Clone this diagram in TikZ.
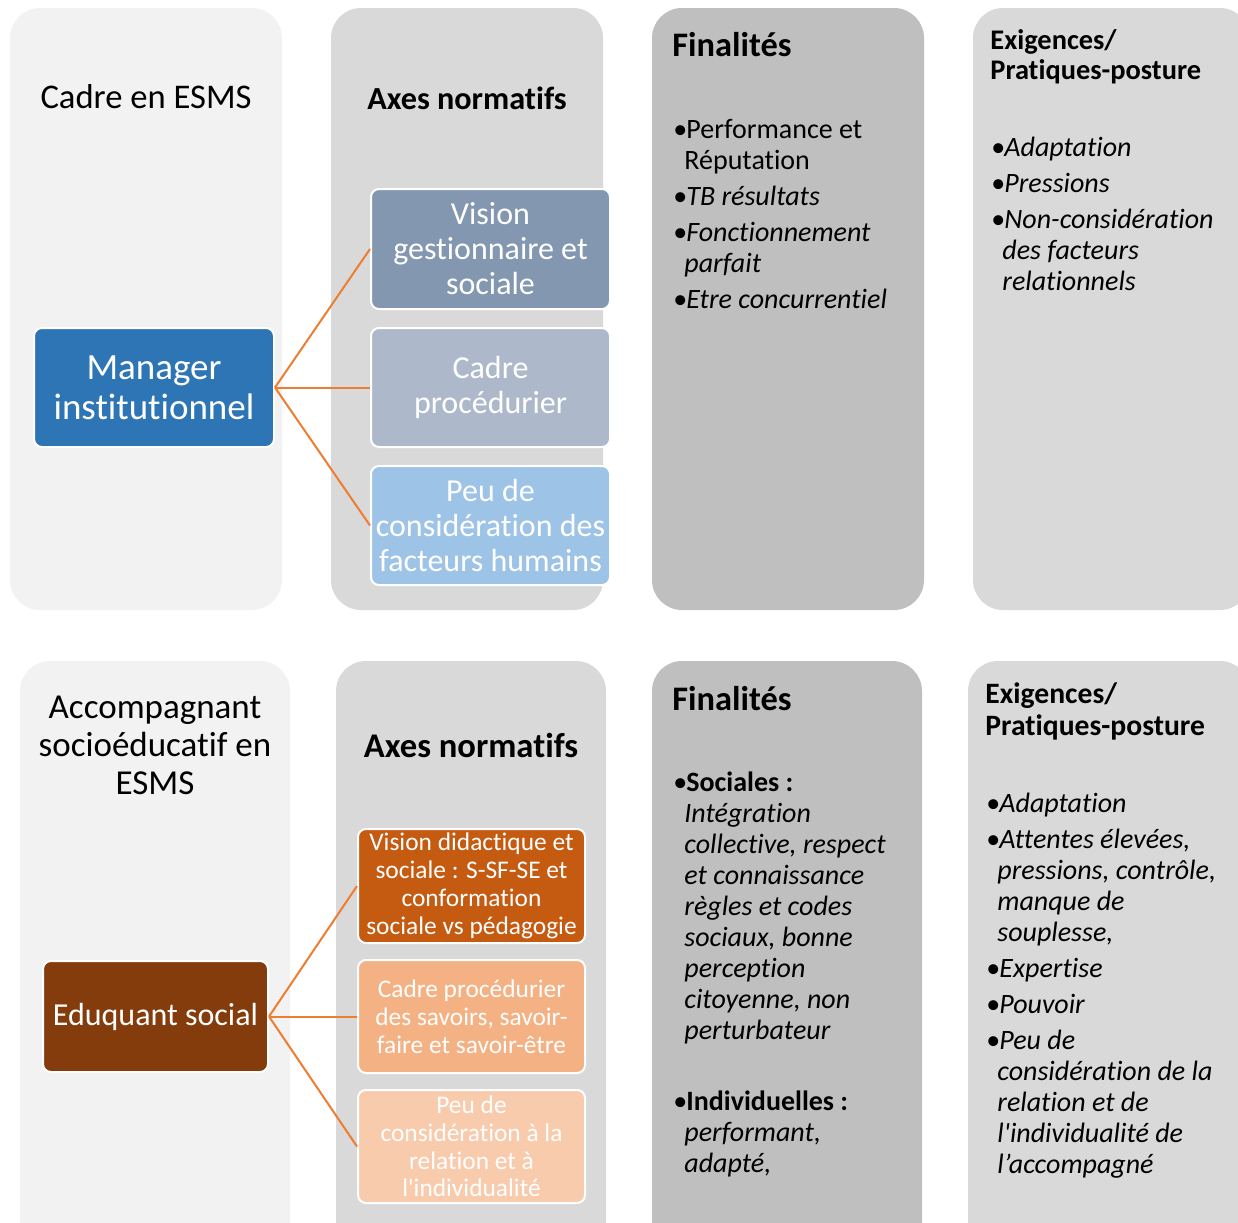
\documentclass[tikz,border=0pt]{standalone}
\usepackage{fontspec}
\setmainfont{Carlito}[Ligatures={CommonOff,TeXOff}]
\usetikzlibrary{positioning}
\definecolor{panelA}{HTML}{F2F2F2}
\definecolor{panelB}{HTML}{D9D9D9}
\definecolor{panelC}{HTML}{BFBFBF}
\definecolor{mgrblue}{HTML}{2E75B6}
\definecolor{axeA}{HTML}{8497B0}
\definecolor{axeB}{HTML}{ADB9CA}
\definecolor{axeC}{HTML}{9DC3E6}
\definecolor{edubrown}{HTML}{843C0C}
\definecolor{axeD}{HTML}{C55A11}
\definecolor{axeE}{HTML}{F4B183}
\definecolor{axeF}{HTML}{F8CBAD}
\definecolor{linkorange}{HTML}{ED7D31}
\newcommand{\itm}{\makebox[6.5pt][l]{•}}
\newcommand{\cnt}{\hspace*{5.5pt}}

\begin{document}
\begin{tikzpicture}[x=0.5pt, y=-0.5pt,
					panel/.style={rounded corners=15pt},
					axe/.style={draw=white, line width=1pt, rounded corners=4pt, text=white, align=center, inner sep=1pt},
					link/.style={draw=linkorange, line width=1pt},
					title/.style={align=center, inner sep=0pt},
					liste/.style={anchor=north west, align=left, inner sep=0pt, font=\fontsize{14}{15.5}\selectfont}]
					\useasboundingbox (0,0) rectangle (1238,1222);
					\clip (0,0) rectangle (1238,1222);
					% Spalten oben
					\fill[panelA, panel] (10,8) rectangle (282,610);
					\fill[panelB, panel] (331,8) rectangle (603,610);
					\fill[panelC, panel] (652,8) rectangle (924,610);
					\fill[panelB, panel] (973,8) rectangle (1250,610);
					% Spalten unten
					\fill[panelA, panel] (20,661) rectangle (290,1260);
					\fill[panelB, panel] (336,661) rectangle (606,1260);
					\fill[panelC, panel] (652,661) rectangle (922,1260);
					\fill[panelB, panel] (968,661) rectangle (1250,1260);
					% Manager institutionnel
					\node[title, font=\fontsize{17.3}{19}\selectfont] (cadre) at (146,97) {Cadre en ESMS};
					\node[title, font=\fontsize{16.1}{18}\selectfont\bfseries] (axesA) at (467,98) {Axes normatifs};
					\node[axe, fill=mgrblue, minimum width=120pt, minimum height=59.5pt, font=\fontsize{18.5}{20}\selectfont] (mgr) at (154,387.5) {Manager\\institutionnel};
					\node[axe, fill=axeA, minimum width=119.5pt, minimum height=60pt, font=\fontsize{16}{17.5}\selectfont] (vis) at (490.5,249) {Vision\\gestionnaire et\\sociale};
					\node[axe, fill=axeB, minimum width=119.5pt, minimum height=59.5pt, font=\fontsize{16}{17.5}\selectfont] (proc) at (490.5,387.5) {Cadre\\procédurier};
					\node[axe, fill=axeC, minimum width=119.5pt, minimum height=59.5pt, font=\fontsize{16}{17.5}\selectfont] (peu) at (490.5,525.5) {Peu de\\considération des\\facteurs humains};
					\draw[link] (mgr.east) -- (vis.west);
					\draw[link] (mgr.east) -- (proc.west);
					\draw[link] (mgr.east) -- (peu.west);
					\node[anchor=west, inner sep=0pt, font=\fontsize{17.2}{19}\selectfont\bfseries] (finA) at (672,45) {Finalités};
					\node[liste] (listA) at (673,119) {\itm Performance et\\ \cnt Réputation\\[2.5pt]
						\itm\textit{TB résultats}\\[2.5pt]
						\itm\textit{Fonctionnement}\\ \cnt\textit{parfait}\\[2.5pt]
						\itm\textit{Etre concurrentiel}};
					\node[anchor=north west, align=left, inner sep=0pt, font=\fontsize{14.2}{15}\selectfont\bfseries] (exiA) at (990,29) {Exigences/\\Pratiques-posture};
					\node[liste] (listB) at (991,137) {\itm\textit{Adaptation}\\[2.5pt]
						\itm\textit{Pressions}\\[2.5pt]
						\itm\textit{Non-considération}\\ \cnt\textit{des facteurs}\\ \cnt\textit{relationnels}};
					% Eduquant social
					\node[title, font=\fontsize{17.5}{19}\selectfont] (accomp) at (155,745) {Accompagnant\\socioéducatif en\\ESMS};
					\node[title, font=\fontsize{17.3}{19}\selectfont\bfseries] (axesB) at (471,745) {Axes normatifs};
					\node[axe, fill=edubrown, minimum width=112.5pt, minimum height=55.5pt, font=\fontsize{16}{19}\selectfont] (edu) at (155.5,1016.5) {Eduquant social};
					\node[axe, fill=axeD, minimum width=113.5pt, minimum height=57pt, font=\fontsize{12.7}{13.9}\selectfont] (did) at (471.5,886) {Vision didactique et\\sociale : S-SF-SE et\\conformation\\sociale vs pédagogie};
					\node[axe, fill=axeE, minimum width=113.5pt, minimum height=56.5pt, font=\fontsize{12.7}{13.9}\selectfont] (sav) at (471.5,1016.5) {Cadre procédurier\\des savoirs, savoir-\\faire et savoir-être};
					\node[axe, fill=axeF, minimum width=113.5pt, minimum height=56.5pt, font=\fontsize{12.7}{13.9}\selectfont] (rel) at (471.5,1146.5) {Peu de\\considération à la\\relation et à\\l'individualité};
					\draw[link] (edu.east) -- (did.west);
					\draw[link] (edu.east) -- (sav.west);
					\draw[link] (edu.east) -- (rel.west);
					\node[anchor=west, inner sep=0pt, font=\fontsize{17.2}{19}\selectfont\bfseries] (finB) at (672,699) {Finalités};
					\node[liste] (listC) at (673,771) {\itm\textbf{Sociales :}\\ \cnt\textit{Intégration}\\ \cnt\textit{collective, respect}\\
						\cnt\textit{et connaissance}\\ \cnt\textit{règles et codes}\\ \cnt\textit{sociaux, bonne}\\
						\cnt\textit{perception}\\ \cnt\textit{citoyenne, non}\\ \cnt\textit{perturbateur}\\[20pt]
						\itm\textbf{Individuelles :}\\ \cnt\textit{performant,}\\ \cnt\textit{adapté,}};
					\node[anchor=north west, align=left, inner sep=0pt, font=\fontsize{14.8}{16}\selectfont\bfseries] (exiB) at (985,682) {Exigences/\\Pratiques-posture};
					\node[liste] (listD) at (986,793) {\itm\textit{Adaptation}\\[2.5pt]
						\itm\textit{Attentes élevées,}\\ \cnt\textit{pressions, contrôle,}\\ \cnt\textit{manque de}\\ \cnt\textit{souplesse,}\\[2.5pt]
						\itm\textit{Expertise}\\[2.5pt]
						\itm\textit{Pouvoir}\\[2.5pt]
						\itm\textit{Peu de}\\ \cnt\textit{considération de la}\\ \cnt\textit{relation et de}\\
						\cnt\textit{l'individualité de}\\ \cnt\textit{l’accompagné}};
				\end{tikzpicture}
\end{document}
